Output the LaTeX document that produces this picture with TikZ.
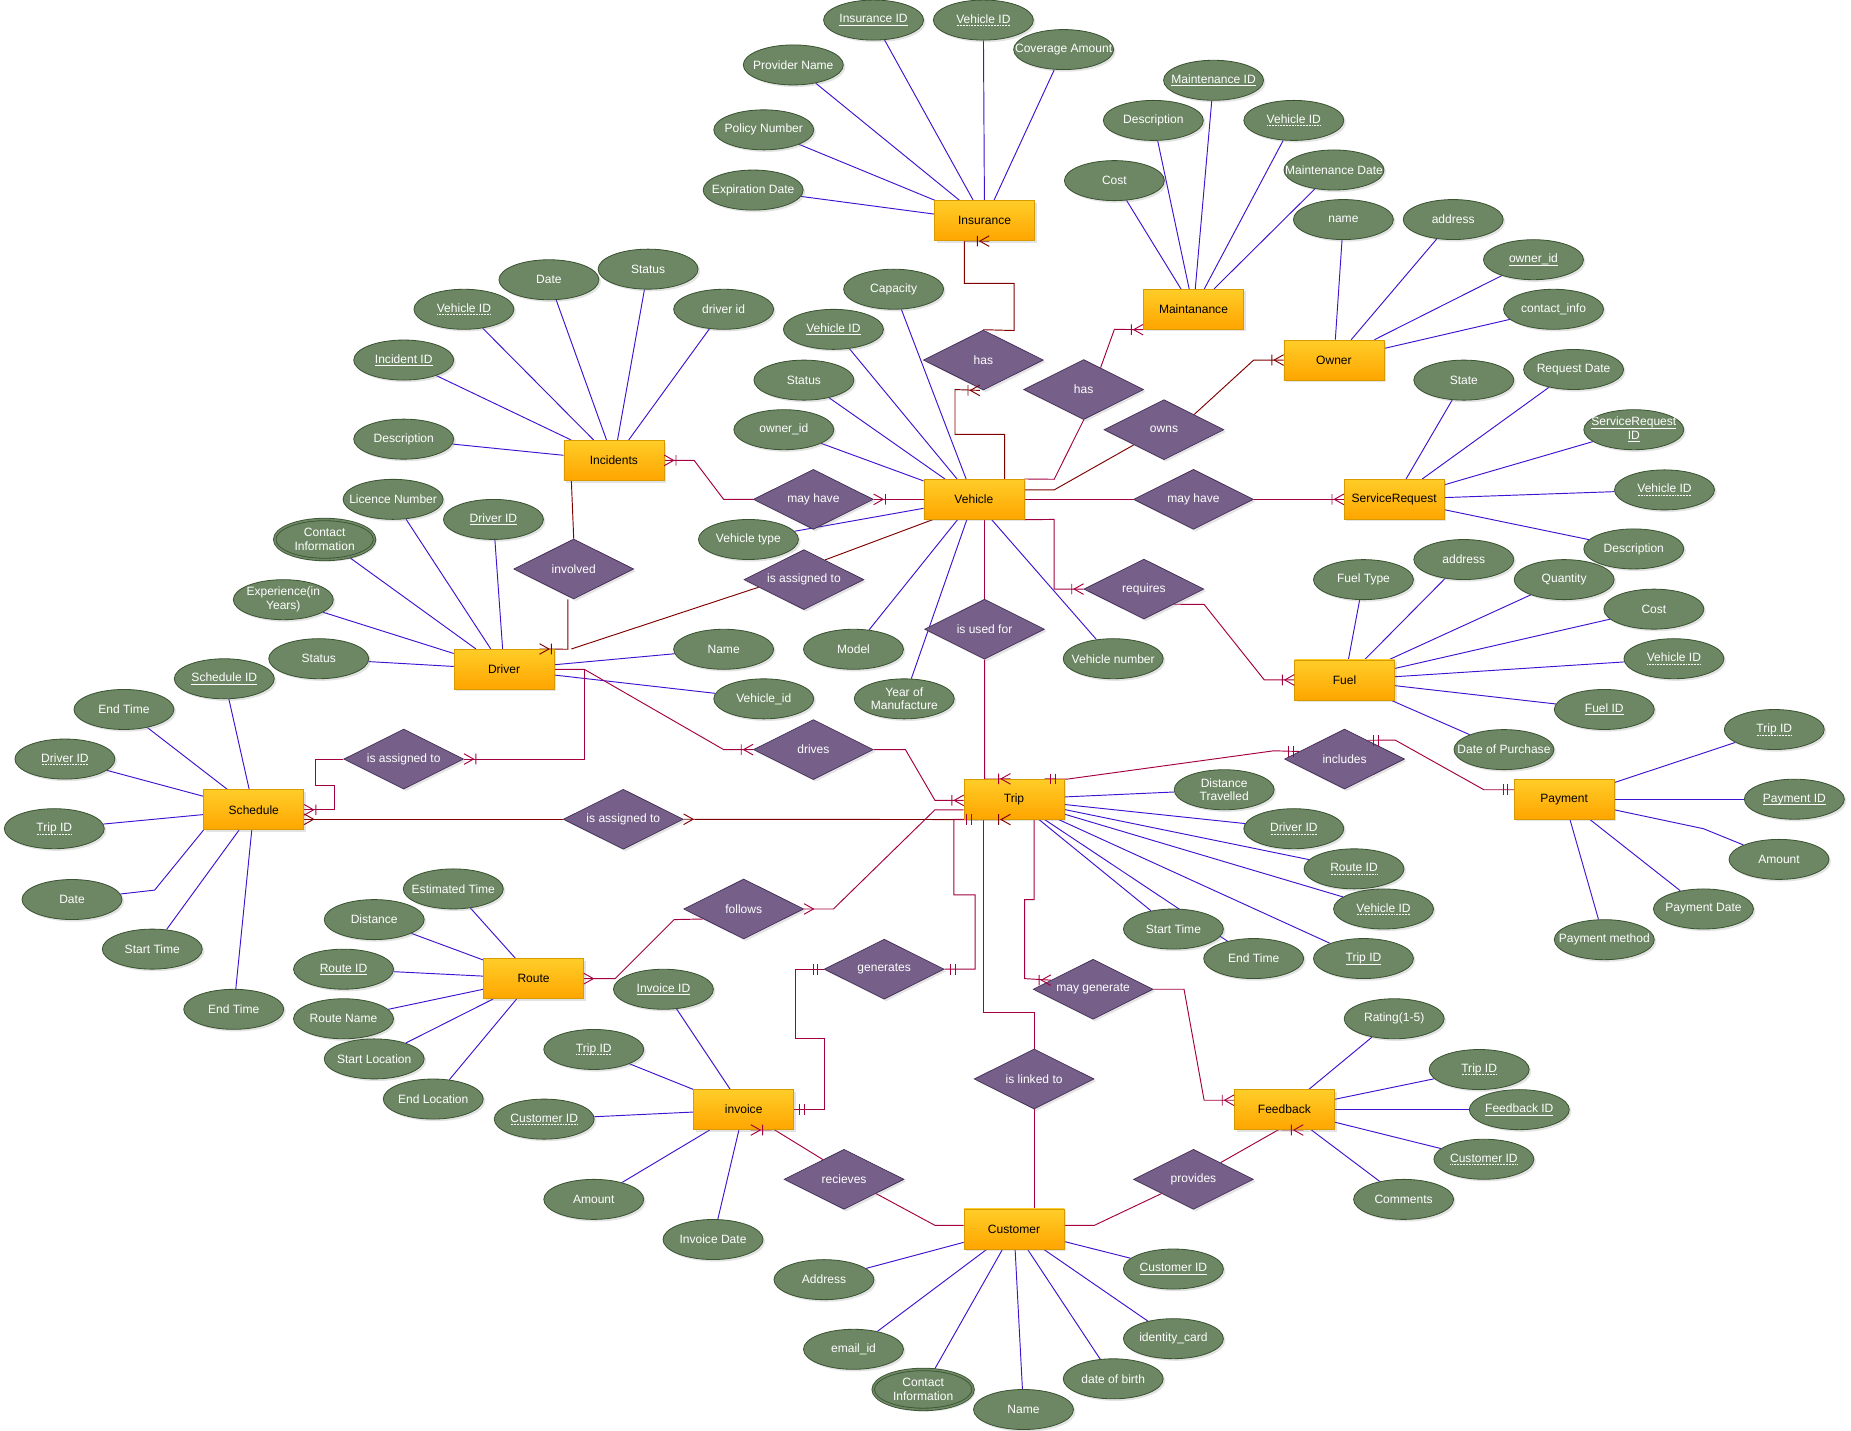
\documentclass[tikz,border=0pt]{standalone}
\usepackage{fontspec}
\setmainfont{Liberation Sans}
\usetikzlibrary{shapes.geometric,shadows,calc}
\pgfdeclarelayer{bg}
\pgfdeclarelayer{background}
\pgfsetlayers{bg,background,main}
\definecolor{attrfill}{HTML}{6D8764}
\definecolor{attrdraw}{HTML}{3A5431}
\definecolor{relfill}{HTML}{76608A}
\definecolor{reldraw}{HTML}{432D57}
\definecolor{entTop}{HTML}{FFCD28}
\definecolor{entBot}{HTML}{FFA500}
\definecolor{entDraw}{HTML}{D79B00}
\definecolor{lnA}{HTML}{A50040}
\definecolor{lnB}{HTML}{800000}
\definecolor{lnAt}{HTML}{4012D2}
\newcommand\myfs{\fontsize{10.2pt}{11.6pt}\selectfont}
\newcommand\keyu[1]{\setbox0=\hbox{#1}\leavevmode\rlap{\copy0}\raisebox{-2.2pt}{\vrule width\wd0 height0.6pt depth0pt}}
\newcommand\fkeyu[1]{\setbox0=\hbox{#1}\leavevmode\rlap{\copy0}\raisebox{-2.2pt}{\hbox to\wd0{\xleaders\hbox to1.3pt{\hss\vrule width0.65pt height0.6pt depth0pt\hss}\hfill}}}
\tikzset{
  shad/.style={drop shadow={shadow xshift=1.8pt,shadow yshift=-1.8pt,opacity=0.22}},
  attr/.style={ellipse,minimum width=84.7pt,minimum height=33.9pt,inner sep=0pt,fill=attrfill,draw=attrdraw,line width=0.7pt,shad},
  dbl/.style={double=attrfill,double distance=1.4pt},
  relshape/.style={diamond,minimum width=101.6pt,minimum height=50.8pt,inner sep=0pt,fill=relfill,draw=reldraw,line width=0.6pt,shad},
  entity/.style={rectangle,minimum width=84.7pt,minimum height=33.9pt,inner sep=0pt,top color=entTop,bottom color=entBot,draw=entDraw,line width=0.6pt,shad,font=\myfs,text=black},
  wtxt/.style={text=white,font=\myfs,align=center,inner sep=0pt},
  attl/.style={draw=lnAt,line width=0.8pt},
  rA/.style={draw=lnA,line width=0.8pt},
  rB/.style={draw=lnB,line width=0.8pt},
  mkA/.style={draw=lnA,line width=0.8pt},
  mkB/.style={draw=lnB,line width=0.8pt},
  pics/omA/.style={code={\draw[mkA] (0,-4.5) -- (8,0) -- (0,4.5) (10,-4.5) -- (10,4.5);}},
  pics/omB/.style={code={\draw[mkB] (0,-4.5) -- (8,0) -- (0,4.5) (10,-4.5) -- (10,4.5);}},
  pics/mnA/.style={code={\draw[mkA] (0,-4.5) -- (8,0) -- (0,4.5);}},
  pics/mnB/.style={code={\draw[mkB] (0,-4.5) -- (8,0) -- (0,4.5);}},
  pics/moA/.style={code={\draw[mkA] (5,-4.5) -- (5,4.5) (9,-4.5) -- (9,4.5);}},
}
\newcommand\mkatt[3]{\node[attr] (#1) at (#2) {}; \node[wtxt] at (#1.center) {#3};}
\newcommand\mkattd[3]{\node[attr,dbl] (#1) at (#2) {}; \node[wtxt] at (#1.center) {#3};}
\newcommand\mkrel[3]{\node[relshape] (#1) at (#2) {}; \node[wtxt] at (#1.center) {#3};}
\newcommand\mkent[3]{\node[entity] (#1) at (#2) {#3};}
\begin{document}
\begin{tikzpicture}[x=1pt,y=-1pt]
\begin{pgfonlayer}{bg}
\fill[white] (0,0) rectangle (1568,1212);
\end{pgfonlayer}
\useasboundingbox (0,0) rectangle (1568,1212);

% ---------- entities ----------
\mkent{ins}{834,187}{Insurance}
\mkent{mnt}{1011,262}{Maintanance}
\mkent{own}{1130,305}{Owner}
\mkent{inc}{520,390}{Incidents}
\mkent{veh}{825,423}{Vehicle}
\mkent{sr}{1181,423}{ServiceRequest}
\mkent{drv}{427,567}{Driver}
\mkent{fuel}{1139,576}{Fuel}
\mkent{sch}{215,686}{Schedule}
\mkent{trip}{859,677}{Trip}
\mkent{pay}{1325,677}{Payment}
\mkent{route}{452,829}{Route}
\mkent{inv}{630,940}{invoice}
\mkent{fb}{1088,940}{Feedback}
\mkent{cust}{859,1041}{Customer}

% ---------- relationships ----------
\mkrel{dHasI}{833,305}{has}
\mkrel{dHasM}{918,330}{has}
\mkrel{dOwns}{986,364}{owns}
\mkrel{dMayI}{689,423}{may have}
\mkrel{dMayS}{1011,423}{may have}
\mkrel{dInv}{486,482}{involved}
\mkrel{dAsgV}{681,491}{is assigned to}
\mkrel{dReq}{969,499}{requires}
\mkrel{dUsed}{834,533}{is used for}
\mkrel{dDrives}{689,635}{drives}
\mkrel{dAsgD}{342,643}{is assigned to}
\mkrel{dIncl}{1139,643}{includes}
\mkrel{dAsgS}{528,694}{is assigned to}
\mkrel{dFollows}{630,770}{follows}
\mkrel{dGen}{749,821}{generates}
\mkrel{dMayG}{926,838}{may generate}
\mkrel{dLinked}{876,914}{is linked to}
\mkrel{dRecv}{715,999}{recieves}
\mkrel{dProv}{1011,999}{provides}

% ---------- attributes ----------
% Insurance
\mkatt{iID}{740,17}{\keyu{Insurance ID}}
\mkatt{iVeh}{833,17}{\fkeyu{Vehicle ID}}
\mkatt{iCov}{901,42}{Coverage Amount}
\mkatt{iProv}{672,55}{Provider Name}
\mkatt{iPol}{647,110}{Policy Number}
\mkatt{iExp}{638,161}{Expiration Date}
% Maintanance
\mkatt{mID}{1028,68}{\keyu{Maintenance ID}}
\mkatt{mDesc}{977,102}{Description}
\mkatt{mVeh}{1096,102}{\fkeyu{Vehicle ID}}
\mkatt{mDate}{1130,144}{Maintenance Date}
\mkatt{mCost}{944,153}{Cost}
% Owner
\mkatt{oName}{1138,186}{name}
\mkatt{oAddr}{1231,186}{address}
\mkatt{oID}{1299,220}{\keyu{owner\_id}}
\mkatt{oCont}{1316,262}{contact\_info}
% ServiceRequest
\mkatt{sState}{1240,322}{State}
\mkatt{sDate}{1333,313}{Request Date}
\mkatt{sID}{1384,364}{\keyu{ServiceRequest}\\\keyu{ID}}
\mkatt{sVeh}{1410,415}{\fkeyu{Vehicle ID}}
\mkatt{sDesc}{1384,465}{Description}
% Incidents
\mkatt{nStat}{549,228}{Status}
\mkatt{nDate}{465,237}{Date}
\mkatt{nDrv}{613,262}{driver id}
\mkatt{nVeh}{393,262}{\fkeyu{Vehicle ID}}
\mkatt{nID}{342,305}{\keyu{Incident ID}}
\mkatt{nDesc}{342,372}{Description}
% Vehicle
\mkatt{vCap}{757,245}{Capacity}
\mkatt{vID}{706,279}{\keyu{Vehicle ID}}
\mkatt{vStat}{681,322}{Status}
\mkatt{vOwn}{664,364}{owner\_id}
\mkatt{vType}{634,457}{Vehicle type}
\mkatt{vModel}{723,550}{Model}
\mkatt{vYear}{766,592}{Year of\\Manufacture}
\mkatt{vNum}{943,558}{Vehicle number}
% Driver
\mkatt{dLic}{333,423}{Licence Number}
\mkatt{dID}{418,440}{\keyu{Driver ID}}
\mkattd{dCont}{275,457}{Contact\\Information}
\mkatt{dExp}{240,508}{Experience(in\\Years)}
\mkatt{dStat}{270,558}{Status}
\mkatt{dName}{613,550}{Name}
\mkatt{dVeh}{647,592}{Vehicle\_id}
% Fuel
\mkatt{fType}{1155,491}{Fuel Type}
\mkatt{fAddr}{1240,474}{address}
\mkatt{fQty}{1325,491}{Quantity}
\mkatt{fCost}{1401,516}{Cost}
\mkatt{fVeh}{1418,558}{\fkeyu{Vehicle ID}}
\mkatt{fID}{1359,601}{\keyu{Fuel ID}}
\mkatt{fDate}{1274,635}{Date of Purchase}
% Schedule
\mkatt{cID}{190,575}{\keyu{Schedule ID}}
\mkatt{cEndA}{105,601}{End Time}
\mkatt{cDrv}{55,643}{\fkeyu{Driver ID}}
\mkatt{cTrip}{46,702}{\fkeyu{Trip ID}}
\mkatt{cDate}{61,762}{Date}
\mkatt{cStart}{129,804}{Start Time}
\mkatt{cEndB}{198,855}{End Time}
% Trip
\mkatt{tDist}{1037,669}{Distance\\Travelled}
\mkatt{tDrv}{1096,702}{\fkeyu{Driver ID}}
\mkatt{tRoute}{1147,736}{\fkeyu{Route ID}}
\mkatt{tVeh}{1172,770}{\fkeyu{Vehicle ID}}
\mkatt{tStart}{994,787}{Start Time}
\mkatt{tEnd}{1062,812}{End Time}
\mkatt{tID}{1155,812}{\keyu{Trip ID}}
% Payment
\mkatt{pTrip}{1503,618}{\fkeyu{Trip ID}}
\mkatt{pID}{1520,677}{\keyu{Payment ID}}
\mkatt{pAmt}{1507,728}{Amount}
\mkatt{pDate}{1443,770}{Payment Date}
\mkatt{pMeth}{1359,796}{Payment method}
% Route
\mkatt{rEst}{384,753}{Estimated Time}
\mkatt{rDist}{317,779}{Distance}
\mkatt{rID}{291,821}{\keyu{Route ID}}
\mkatt{rName}{291,863}{Route Name}
\mkatt{rStart}{317,897}{Start Location}
\mkatt{rEnd}{367,931}{End Location}
% invoice
\mkatt{qID}{562,838}{\keyu{Invoice ID}}
\mkatt{qTrip}{503,889}{\fkeyu{Trip ID}}
\mkatt{qCust}{461,948}{\fkeyu{Customer ID}}
\mkatt{qAmt}{503,1016}{Amount}
\mkatt{qDate}{604,1050}{Invoice Date}
% Feedback
\mkatt{bRate}{1181,863}{Rating(1-5)}
\mkatt{bTrip}{1253,906}{\fkeyu{Trip ID}}
\mkatt{bID}{1287,940}{\keyu{Feedback ID}}
\mkatt{bCust}{1257,982}{\fkeyu{Customer ID}}
\mkatt{bCom}{1189,1016}{Comments}
% Customer
\mkatt{uAddr}{698,1084}{Address}
\mkatt{uID}{994,1075}{\keyu{Customer ID}}
\mkatt{uEmail}{723,1143}{email\_id}
\mkatt{uIdc}{994,1134}{identity\_card}
\mkattd{uCont}{782,1177}{Contact\\Information}
\mkatt{uDob}{943,1168}{date of birth}
\mkatt{uName}{867,1194}{Name}

% ---------- connectors ----------
\begin{pgfonlayer}{background}
\foreach \a in {iID,iVeh,iCov,iProv,iPol,iExp} \draw[attl] (\a) -- (ins);
\foreach \a in {mID,mDesc,mVeh,mDate,mCost} \draw[attl] (\a) -- (mnt);
\foreach \a in {oName,oAddr,oID,oCont} \draw[attl] (\a) -- (own);
\foreach \a in {sState,sDate,sID,sVeh,sDesc} \draw[attl] (\a) -- (sr);
\foreach \a in {nStat,nDate,nDrv,nVeh,nID,nDesc} \draw[attl] (\a) -- (inc);
\foreach \a in {vCap,vID,vStat,vOwn,vType,vModel,vYear,vNum} \draw[attl] (\a) -- (veh);
\foreach \a in {dLic,dID,dCont,dExp,dStat,dName,dVeh} \draw[attl] (\a) -- (drv);
\foreach \a in {fType,fAddr,fQty,fCost,fVeh,fID,fDate} \draw[attl] (\a) -- (fuel);
\foreach \a in {cID,cEndA,cDrv,cTrip,cStart,cEndB} \draw[attl] (\a) -- (sch);
\draw[attl] (cDate) -- (131,754) -- (sch.south west);
\foreach \a in {tDist,tDrv,tRoute,tVeh,tStart,tEnd,tID} \draw[attl] (\a) -- (trip);
\foreach \a in {pTrip,pID,pDate,pMeth} \draw[attl] (\a) -- (pay);
\draw[attl] (pay) -- (1443,702) -- (pAmt);
\foreach \a in {rEst,rDist,rID,rName,rStart,rEnd} \draw[attl] (\a) -- (route);
\foreach \a in {qID,qTrip,qCust,qAmt,qDate} \draw[attl] (\a) -- (inv);
\foreach \a in {bRate,bTrip,bID,bCust,bCom} \draw[attl] (\a) -- (fb);
\foreach \a in {uAddr,uID,uEmail,uIdc,uCont,uDob,uName} \draw[attl] (\a) -- (cust);

% relationship lines
\draw[rB] ([xshift=4pt]ins.south) -- (817,204) -- (817,240) -- (859,240) -- (859,280) -- (dHasI.north);
\draw[rB] ([xshift=-3pt]dHasI.south) -- (809,330) -- (809,368) -- (851,368) -- ([xshift=26pt]veh.north);
\draw[rA] (veh.north east) -- (893,406) -- (dHasM.south);
\draw[rA] ($(dHasM.north)!0.28!(dHasM.east)$) -- (944,279) -- (mnt.south west);
\draw[rB] ([yshift=8pt]veh.east) -- (893,415) -- (dOwns.south west);
\draw[rB] (dOwns.north east) -- (1062,305) -- (own.west);
\draw[rA] (veh.east) -- (dMayS.west);
\draw[rA] (dMayS.east) -- (sr.west);
\draw[rA] (veh.south east) -- (893,440) -- (893,499) -- (dReq.west);
\draw[rA] (dReq.south east) -- (1020,512) -- (1071,576) -- (fuel.west);
\draw[rA] ([xshift=9pt]veh.south) -- (dUsed.north);
\draw[rA] (dUsed.south) -- (834,660) -- ([xshift=-3pt]trip.north);
\draw[rA] ([xshift=26pt]trip.north) -- (904,660) -- (1079,636) -- ($(dIncl.west)!0.25!(dIncl.north)$);
\draw[rA] ($(dIncl.north)!0.38!(dIncl.east)$) -- (1182,627) -- (1257,669) -- ([yshift=8pt]pay.west);
\draw[rA] (inc.east) -- (588,390) -- (613,423) -- (dMayI.west);
\draw[rA] (dMayI.east) -- (veh.west);
\draw[rB] ([xshift=-36pt]inc.south) -- (dInv.north);
\draw[rB] ([xshift=-5pt]dInv.south) -- (481,550) -- ([xshift=30pt]drv.north);
\draw[rB] ([xshift=57pt]drv.north) -- ($(dAsgV.west)!0.25!(dAsgV.south)$);
\draw[rB] ($(dAsgV.north)!0.35!(dAsgV.east)$) -- ([xshift=-35pt]veh.south);
\draw[rA] (drv.east) -- (495,567) -- (613,635) -- (dDrives.west);
\draw[rA] (drv.east) -- (495,567) -- (495,643) -- (dAsgD.east);
\draw[rA] (dDrives.east) -- (767,635) -- (792,678) -- ([yshift=-1pt]trip.west);
\draw[rA] (dAsgD.west) -- (267,643) -- (267,665) -- (283,665) -- (283,686) -- (sch.east);
\draw[rB] ([yshift=-8pt]sch.east) -- (dAsgS.west);
\draw[rB] (dAsgS.east) -- (trip.south west) -- ([xshift=-3pt]trip.south);
\draw[rA] (route.east) -- (521,829) -- (571,779) -- ($(dFollows.west)!0.33!(dFollows.south)$);
\draw[rA] (dFollows.east) -- (706,770) -- (792,686) -- ([yshift=-9pt]trip.west);
\draw[rA] ([xshift=-31pt]trip.south) -- (808,694) -- (808,758) -- (826,758) -- (826,821) -- (dGen.east);
\draw[rA] (dGen.west) -- (674,821) -- (674,880) -- (698,880) -- (698,940) -- (inv.east);
\draw[rA] ([xshift=-26pt]trip.south) -- (833,858) -- (876,858) -- (dLinked.north);
\draw[rA] (dLinked.south) -- ([xshift=17pt]cust.north);
\draw[rA] ([xshift=17pt]trip.south) -- (876,762) -- (868,762) -- (868,829) -- ($(dMayG.west)!0.3!(dMayG.north)$);
\draw[rA] (dMayG.east) -- (1003,838) -- (1020,932) -- ([yshift=8pt]fb.west);
\draw[rA] ([xshift=6pt]inv.south) -- (656,957) -- ($(dRecv.west)!0.65!(dRecv.north)$);
\draw[rA] ($(dRecv.south)!0.53!(dRecv.east)$) -- (792,1038) -- ([yshift=3pt]cust.west);
\draw[rA] ([yshift=3pt]cust.east) -- (927,1038) -- ($(dProv.west)!0.47!(dProv.south)$);
\draw[rA] ($(dProv.north)!0.45!(dProv.east)$) -- (1083,957) -- ([xshift=16pt]fb.south);
\end{pgfonlayer}

% ---------- cardinality markers ----------
\pic[rotate=180] at ([xshift=4pt]ins.south) {omB};
\pic[rotate=180] at ([xshift=-3pt]dHasI.south) {omB};
\pic[rotate=180] at (mnt.south west) {omA};
\pic[rotate=180] at (own.west) {omB};
\pic[rotate=180] at (sr.west) {omA};
\pic[rotate=180] at (dReq.west) {omA};
\pic[rotate=180] at (fuel.west) {omA};
\pic at (inc.east) {omA};
\pic at (dMayI.east) {omA};
\pic at ([xshift=30pt]drv.north) {omB};
\pic at (dAsgD.east) {omA};
\pic at (sch.east) {omA};
\pic at ([yshift=-8pt]sch.east) {mnB};
\pic at (dAsgS.east) {mnB};
\pic[rotate=180] at (dDrives.west) {omA};
\pic[rotate=180] at ([yshift=-1pt]trip.west) {omA};
\pic[rotate=180] at ([xshift=-3pt]trip.north) {omA};
\pic at ([xshift=26pt]trip.north) {moA};
\pic[rotate=180] at ($(dIncl.west)!0.25!(dIncl.north)$) {moA};
\pic at ($(dIncl.north)!0.38!(dIncl.east)$) {moA};
\pic[rotate=180] at ([yshift=8pt]pay.west) {moA};
\pic at (route.east) {mnA};
\pic at (dFollows.east) {mnA};
\pic at (dGen.east) {moA};
\pic[rotate=180] at ([xshift=-31pt]trip.south) {moA};
\pic[rotate=180] at (dGen.west) {moA};
\pic at (inv.east) {moA};
\pic[rotate=180] at ([xshift=-3pt]trip.south) {omB};
\pic[rotate=180] at ($(dMayG.west)!0.3!(dMayG.north)$) {omA};
\pic[rotate=180] at ([yshift=8pt]fb.west) {omA};
\pic at ([xshift=6pt]inv.south) {omA};
\pic[rotate=180] at ([xshift=16pt]fb.south) {omA};
\end{tikzpicture}
\end{document}
